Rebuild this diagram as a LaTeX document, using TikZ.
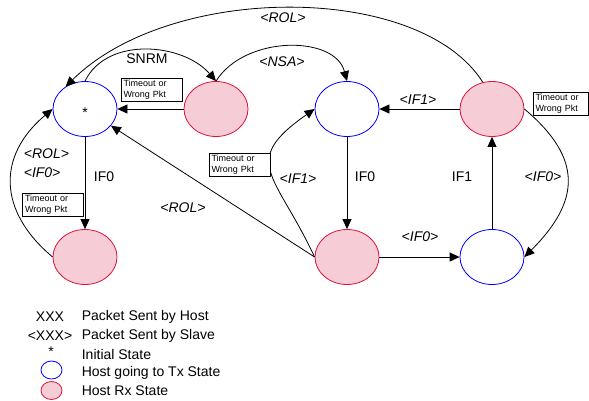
\documentclass[tikz,border=0pt]{standalone}
\usepackage{fontspec}
\setmainfont{Liberation Sans}
\usepackage{tikz}
\usetikzlibrary{shapes,arrows.meta,positioning}
\definecolor{txblue}{RGB}{0,0,255}
\definecolor{rxred}{RGB}{220,20,60}
\definecolor{rxpink}{RGB}{246,204,214}
\tikzstyle{tx}=[draw=txblue,ellipse,line width=0.8pt,minimum width=64pt,minimum height=55pt,inner sep=0pt]
\tikzstyle{rx}=[tx,draw=rxred,fill=rxpink]
\tikzstyle{arrow}=[draw,line width=0.8pt,-{Triangle[length=10pt,width=9pt]}]
\tikzstyle{tmo}=[draw,fill=white,line width=0.6pt,align=left,text width=56pt,inner xsep=2.5pt,inner ysep=2pt,font=\fontsize{9}{11}\selectfont]
\tikzstyle{lbl}=[font=\fontsize{14}{16}\selectfont]
\tikzstyle{slv}=[font=\fontsize{14}{16}\selectfont\itshape]
\tikzstyle{key}=[minimum width=21pt,minimum height=18pt]

\begin{document}
\begin{tikzpicture}[x=1pt,y=1pt]
  \useasboundingbox (0,0) rectangle (589,-400);

  % States
  \node [tx,lbl,text height=17pt,text depth=0pt] (s) at (85,-109) {*};
  \node [rx] (rx1) at (216,-109) {};
  \node [tx] (tx1) at (347,-109) {};
  \node [rx] (rx2) at (492,-109) {};
  \node [rx] (rx0) at (85,-257) {};
  \node [rx] (rx3) at (347,-257) {};
  \node [tx] (tx2) at (492,-257) {};

  % Straight transitions
  \draw[arrow] (rx1) -- (s);
  \draw[arrow] (rx2) -- (tx1);
  \draw[arrow] (tx1) -- (rx3);
  \draw[arrow] (rx3) -- (tx2);
  \draw[arrow] (tx2) -- (rx2);
  \draw[arrow] (s) -- (rx0);
  \draw[arrow] (rx3.west) -- (s);

  % Curved transitions
  \draw[arrow] (s.north) .. controls (107,-36) and (183,-43) .. (rx1.north);
  \draw[arrow] (rx1.north) .. controls (245,-35) and (335,-35) .. (tx1.north);
  \draw[arrow] (rx2.109) .. controls (420,17.5) and (171,17.5) .. (s.131);
  \draw[arrow] (rx2.east) to[out=-40,in=45,looseness=1.35] (tx2.east);
  \draw[arrow] (rx3.west) to[out=115,in=215,looseness=1.6] (tx1.west);
  \draw[arrow] (rx0.west) to[out=140,in=220,looseness=1.25] (s.west);

  % Packet labels
  \node[slv] (rol1) at (283,-18) {<ROL>};
  \node[lbl] (snrm) at (147,-59) {SNRM};
  \node[slv] (nsa) at (282,-62) {<NSA>};
  \node[slv] (if1a) at (418,-100) {<IF1>};
  \node[lbl] (if0a) at (365,-177) {IF0};
  \node[lbl] (if1b) at (462,-177) {IF1};
  \node[slv] (if0b) at (543,-177) {<IF0>};
  \node[slv] (if1c) at (298,-179) {<IF1>};
  \node[slv] (rol2) at (183,-208) {<ROL>};
  \node[slv] (if0c) at (420,-237) {<IF0>};
  \node[slv,anchor=west] (rol3) at (20.3,-154) {<ROL>};
  \node[slv,anchor=west] (if0d) at (20.3,-173) {<IF0>};
  \node[lbl] (if0e) at (104,-177) {IF0};

  % Timeouts
  \node[tmo] (tmo1) at (151.5,-89.5) {Timeout or\\Wrong Pkt};
  \node[tmo,text width=50pt] (tmo2) at (560.5,-104) {Timeout or\\Wrong Pkt};
  \node[tmo] (tmo3) at (239.5,-164.5) {Timeout or\\Wrong Pkt};
  \node[tmo] (tmo4) at (53,-204.5) {Timeout or\\Wrong Pkt};

  % Legend
  \node[lbl] (kh) at (50,-317) {XXX};
  \node[lbl] (ks) at (50,-335.5) {<XXX>};
  \node[lbl] (ki) at (51,-352) {*};
  \node[tx,key] (kt) at (51.5,-370) {};
  \node[rx,key] (kr) at (51.5,-390.5) {};
  \foreach \t [count=\i from 0] in {Packet Sent by Host,Packet Sent by Slave,Initial State,Host going to Tx State,Host Rx State} {
    \node[lbl,anchor=west] (k\i) at (78.3,-317-18.5*\i) {\t};
  }
\end{tikzpicture}
\end{document}
